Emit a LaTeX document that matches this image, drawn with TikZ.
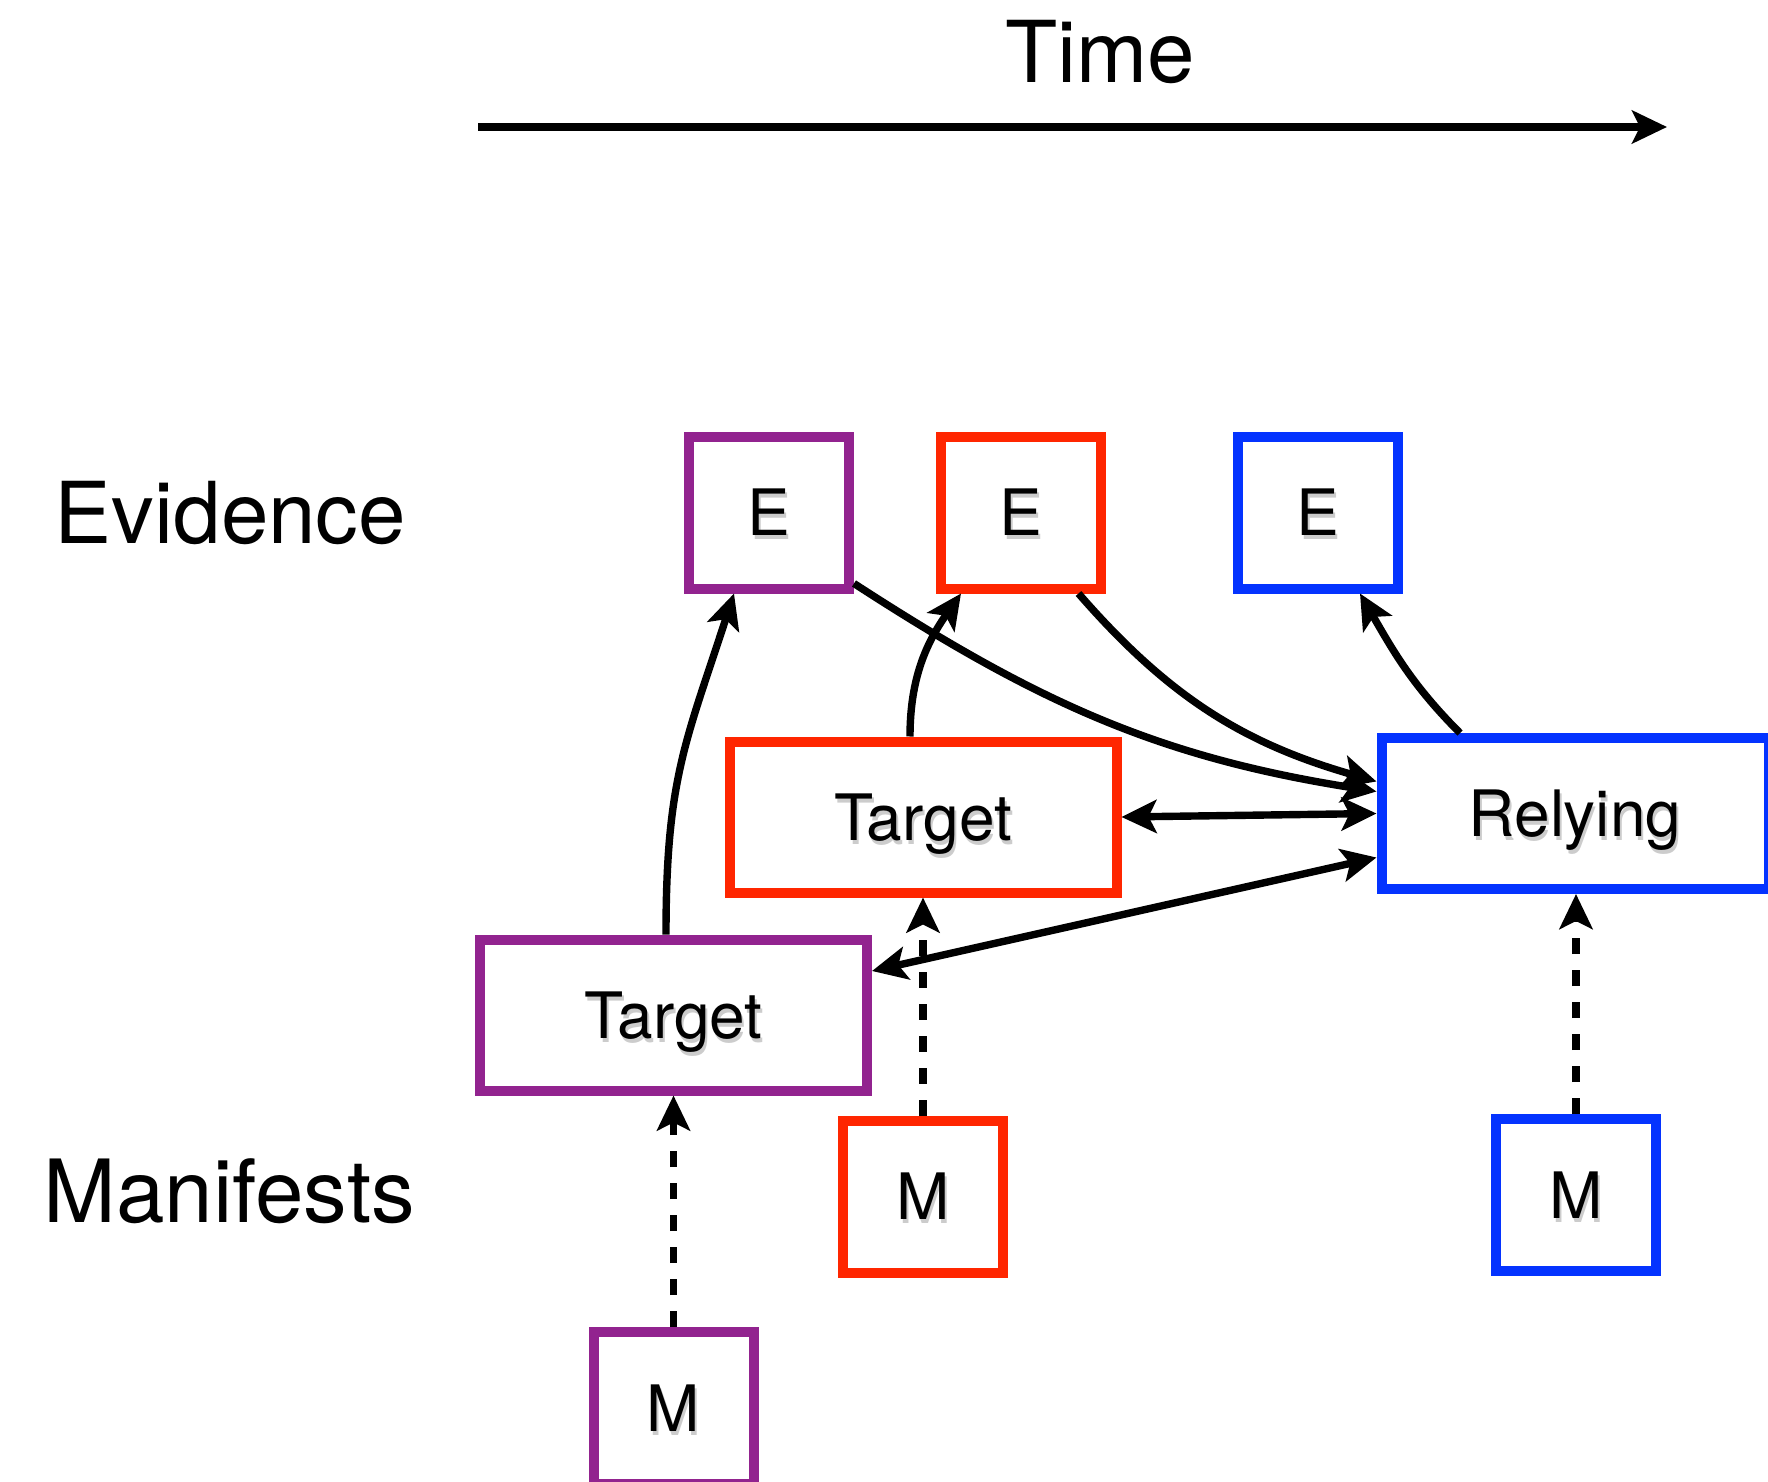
\documentclass[tikz,border=0pt]{standalone}
\usepackage{fontspec}
\setmainfont{TeX Gyre Heros}
\usetikzlibrary{arrows.meta}
\definecolor{cpurple}{RGB}{146,35,143}
\definecolor{cred}{RGB}{255,38,0}
\definecolor{cblue}{RGB}{4,51,255}
\newcommand\shd[1]{\rlap{\kern1pt\raisebox{-2pt}{\textcolor{black!20}{#1}}}#1}
\tikzset{myarr/.tip={Stealth[length=17.5pt,width=16.5pt,inset=4pt]}}
\begin{document}
\begin{tikzpicture}[x=0.5pt,y=0.5pt,
  box/.style={draw, line width=5pt, fill=white, inner sep=0pt,
    font=\fontsize{32}{32}\selectfont, text height=23pt, text depth=0pt},
  small/.style={box, minimum width=80pt, minimum height=76pt},
  large/.style={box, minimum width=193.5pt, minimum height=75.5pt},
  conn/.style={line width=3.7pt, -myarr},
  dconn/.style={conn, dash pattern=on 8pt off 8pt},
  lbl/.style={inner sep=0pt, font=\fontsize{42.7}{42.7}\selectfont}]
\fill[white] (0,0) rectangle (1768,-1482);
\useasboundingbox (0,0) rectangle (1768,-1482);

% row labels
\node[lbl, anchor=base] (time) at (1100,-82.5) {Time};
\node[lbl, anchor=base west] (evid) at (54.5,-543.5) {Evidence};
\node[lbl, anchor=base west, font=\fontsize{43.6}{43.6}\selectfont] (man) at (43,-1222) {Manifests};

% time axis
\coordinate (t0) at (478,-127);
\coordinate (t1) at (1667,-127);
\draw[conn] (t0) -- (t1);

% evidence boxes
\node[small, draw=cpurple] (pE) at (769,-512.5) {\shd{E}};
\node[small, draw=cred]    (rE) at (1020.5,-512.5) {\shd{E}};
\node[small, draw=cblue]   (bE) at (1318,-512.5) {\shd{E}};

% targets and relying
\node[large, draw=cred]    (rT)  at (923,-817) {\shd{Target}};
\node[large, draw=cblue]   (rel) at (1575,-813.5) {\shd{Relying}};
\node[large, draw=cpurple] (pT)  at (673.5,-1015) {\shd{Target}};

% manifests
\node[small, draw=cpurple] (pM) at (673.5,-1408) {\shd{M}};
\node[small, draw=cred]    (rM) at (923,-1196.5) {\shd{M}};
\node[small, draw=cblue]   (bM) at (1576,-1195) {\shd{M}};

% evidence generation
\draw[conn] ([xshift=-3.75pt]pT.north) to[out=90,in=-108,looseness=1.15] ([xshift=-17.5pt]pE.south);
\draw[conn] ([xshift=-6.5pt]rT.north) to[out=90,in=-125] ([xshift=-29.75pt]rE.south);
\draw[conn] ([xshift=-57.5pt]rel.north) to[out=135,in=-60] ([xshift=21pt]bE.south);

% evidence conveyed to relying party
\draw[conn] ([yshift=5pt]pE.south east) to[out=-33,in=171] ([yshift=11pt]rel.west);
\draw[conn] ([xshift=29pt]rE.south) to[out=-49,in=164] ([yshift=16pt]rel.west);

% interactions
\draw[conn, myarr-myarr] (rT.east) -- (rel.west);
\draw[conn, myarr-myarr] ([yshift=22pt]pT.east) -- ([yshift=-22pt]rel.west);

% manifests
\draw[dconn] (pM.north) -- (pT.south);
\draw[dconn] (rM.north) -- (rT.south);
\draw[dconn] (bM.north) -- (bM.north |- rel.south);
\end{tikzpicture}
\end{document}
